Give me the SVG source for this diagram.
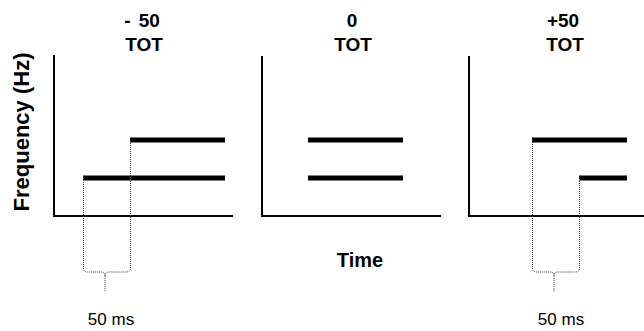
<svg xmlns="http://www.w3.org/2000/svg" width="644" height="331" viewBox="0 0 644 331">
<style>
.axis{stroke:#000;stroke-width:2;fill:none}
.bar{stroke:#000;stroke-width:5;fill:none}
.dot{stroke:#333;stroke-width:1;stroke-dasharray:1 1;fill:none}
.title{font-family:"Liberation Sans",Arial,sans-serif;font-weight:bold;font-size:19px;text-anchor:middle;fill:#000}
.lab{font-family:"Liberation Sans",Arial,sans-serif;font-weight:bold;font-size:20px;text-anchor:middle;fill:#000}
.ms{font-family:"Liberation Sans",Arial,sans-serif;font-size:17px;text-anchor:middle;fill:#000}
</style>
<rect width="644" height="331" fill="#fff"/>
<g id="panel-minus50">
<text class="title" x="142" y="27" word-spacing="3">- 50</text>
<text class="title" x="144" y="51">TOT</text>
<path class="axis" d="M54,55 V216 H233"/>
<line class="bar" x1="83" y1="178" x2="225" y2="178"/>
<line class="bar" x1="130" y1="140" x2="225" y2="140"/>
</g>
<g id="panel-0">
<text class="title" x="352" y="27">0</text>
<text class="title" x="353" y="51">TOT</text>
<path class="axis" d="M262,56 V216 H441"/>
<line class="bar" x1="308" y1="140" x2="403" y2="140"/>
<line class="bar" x1="308" y1="178" x2="403" y2="178"/>
</g>
<g id="panel-plus50">
<text class="title" x="563" y="27">+50</text>
<text class="title" x="565" y="51">TOT</text>
<path class="axis" d="M469,56 V216 H644"/>
<line class="bar" x1="532" y1="140" x2="627" y2="140"/>
<line class="bar" x1="579" y1="178" x2="627" y2="178"/>
</g>
<g id="connectors">
<path class="dot" d="M83.5,178 V268 Q83.5,272 87.5,272 H101 Q105,272 105,276 V292 M105,276 Q105,272 109,272 H126 Q130.5,272 130.5,268 V140"/>
<path class="dot" d="M532.5,140 V268 Q532.5,272 536.5,272 H550 Q554,272 554,276 V292 M554,276 Q554,272 558,272 H575 Q579.5,272 579.5,268 V178"/>
</g>
<text class="lab" style="font-size:22px" transform="translate(29,132) rotate(-90)">Frequency (Hz)</text>
<text class="lab" x="360" y="267">Time</text>
<text class="ms" x="111" y="325">50 ms</text>
<text class="ms" x="561" y="325">50 ms</text>
</svg>
